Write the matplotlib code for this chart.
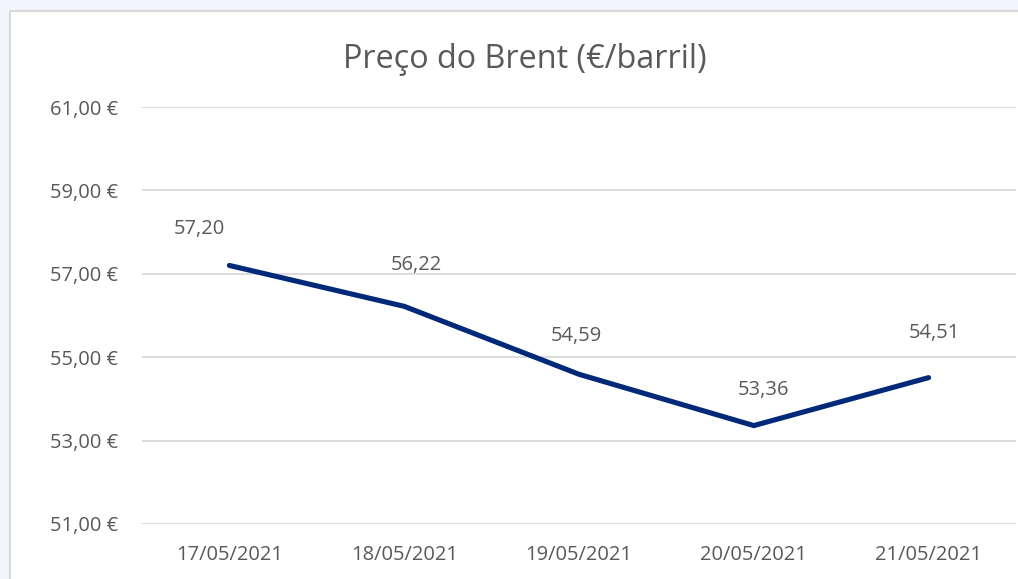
import matplotlib

matplotlib.use("Agg")
import matplotlib.pyplot as plt
from matplotlib.patches import Rectangle

# Brent price data (€/barril)
dates = ["17/05/2021", "18/05/2021", "19/05/2021", "20/05/2021", "21/05/2021"]
prices = [57.20, 56.22, 54.59, 53.36, 54.51]
y_ticks = [51, 53, 55, 57, 59, 61]

# hand-placed data label offsets (pixels from the point), as in the original
label_dx = [-30, 12, -3, 10, 6]
label_dy = [36, 41, 38, 36, 45]

LINE_COLOR = "#00297a"
TEXT_COLOR = "#595959"
GRID_COLOR = "#d9d9d9"

plt.rcParams["font.family"] = ["Open Sans", "DejaVu Sans"]


def euro(v):
    return f"{v:.2f}".replace(".", ",")


fig = plt.figure(figsize=(10.18, 5.79), dpi=100)
fig.patch.set_facecolor("#f2f5f9")

# white chart frame with light border, drawn behind the axes
W, H = 1018, 579
fig.patches.append(Rectangle((10 / W, -0.1), 1.2, 1.1 - 11 / H, transform=fig.transFigure,
                             facecolor="white", edgecolor=GRID_COLOR, linewidth=1.5,
                             zorder=-10))

ax = fig.add_axes([142 / W, 1 - 524 / H, (1016 - 142) / W, (524 - 107) / H])
ax.set_facecolor("none")

x = list(range(len(dates)))
ax.plot(x, prices, color=LINE_COLOR, linewidth=3.7, solid_joinstyle="miter",
        solid_capstyle="round", zorder=3)

px = 72 / fig.dpi
for xi, p, dx, dy in zip(x, prices, label_dx, label_dy):
    ax.annotate(euro(p), (xi, p), xytext=(dx * px, dy * px), textcoords="offset points",
                ha="center", va="center", fontsize=14.5, color=TEXT_COLOR)

ax.set_xlim(-0.5, len(dates) - 0.5)
ax.set_ylim(y_ticks[0], y_ticks[-1])
ax.set_yticks(y_ticks)
ax.set_yticklabels([euro(v) + " €" for v in y_ticks])
ax.set_xticks(x)
ax.set_xticklabels(dates)
ax.tick_params(axis="both", length=0, labelsize=14.5, labelcolor=TEXT_COLOR)
ax.tick_params(axis="y", pad=17)
ax.tick_params(axis="x", pad=15)
ax.grid(axis="y", color=GRID_COLOR, linewidth=1.3)
ax.set_axisbelow(True)
for s in ax.spines.values():
    s.set_visible(False)

fig.text(525 / W, 1 - 60 / H, "Preço do Brent (€/barril)", ha="center", va="center",
         fontsize=23.3, color=TEXT_COLOR)

fig.savefig("out.png", dpi=100)
